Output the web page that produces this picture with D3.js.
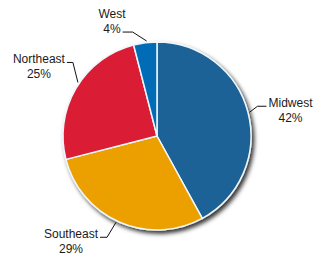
<!DOCTYPE html>
<html>
<head>
<meta charset="utf-8">
<script src="https://cdn.jsdelivr.net/npm/d3@7"></script>
<style>
  body { margin: 0; background: #fff; }
  text { font-family: "Liberation Sans", Arial, sans-serif; font-size: 12px; fill: #1a1a1a; }
</style>
</head>
<body>
<div id="chart"></div>
<script>
// data
const regions = ['Midwest', 'Southeast', 'Northeast', 'West'];
const shares = [42, 29, 25, 4];
const colors = ['#1d6296', '#eba000', '#da1a34', '#066cb6'];

// leader line shape per label: angle tweak (deg), elbow offset, horizontal run
const leaders = [
  { shift: 0, dx: 8, dy: -6, run: 9 },
  { shift: 2, dx: -9, dy: 15, run: 7 },
  { shift: 3.5, dx: -5, dy: -20, run: 6 },
  { shift: 1, dx: -14, dy: -9, run: 10 }
];

const width = 322, height = 260, radius = 94;
const cx = 157, cy = 136;

const svg = d3.select('#chart').append('svg')
  .attr('width', width)
  .attr('height', height);

const filter = svg.append('defs').append('filter')
  .attr('id', 'shadow')
  .attr('x', '-20%').attr('y', '-20%')
  .attr('width', '140%').attr('height', '140%');
filter.append('feDropShadow')
  .attr('dx', 2.5).attr('dy', 3)
  .attr('stdDeviation', 2)
  .attr('flood-color', '#000')
  .attr('flood-opacity', 0.8);

const g = svg.append('g')
  .attr('transform', `translate(${cx}, ${cy})`);

const pie = d3.pie().sort(null).value(d => d.value);
const arcs = pie(regions.map((r, i) => ({ label: r, value: shares[i], color: colors[i], leader: leaders[i] })));

const arc = d3.arc().innerRadius(0).outerRadius(radius);

g.append('g')
  .attr('filter', 'url(#shadow)')
  .selectAll('path')
  .data(arcs)
  .enter()
  .append('path')
  .attr('d', arc)
  .attr('fill', d => d.data.color)
  .attr('stroke', '#eef7fc')
  .attr('stroke-width', 1.5);

// leader lines + labels
const lineH = 15;

arcs.forEach(d => {
  const L = d.data.leader;
  const a = (d.startAngle + d.endAngle) / 2 + L.shift * Math.PI / 180;
  const right = Math.sin(a) > 0;
  const top = Math.cos(a) > 0.9;
  const p0 = [Math.sin(a) * (radius + 1.5), -Math.cos(a) * (radius + 1.5)];
  const p1 = [p0[0] + L.dx, p0[1] + L.dy];
  const p2 = [p1[0] + (right ? L.run : -L.run), p1[1]];

  g.append('polyline')
    .attr('points', [p0, p1, p2].map(p => p.join(',')).join(' '))
    .attr('fill', 'none')
    .attr('stroke', '#111')
    .attr('stroke-width', 1);

  const tx = p2[0] + (right ? 2 : -2);
  const by = p2[1] + 0.5;
  // above the pie the line points at the second line of the label
  const near = top ? `${d.data.value}%` : d.data.label;
  const far = top ? d.data.label : `${d.data.value}%`;
  const t1 = g.append('text')
    .attr('x', tx)
    .attr('y', by)
    .attr('text-anchor', right ? 'start' : 'end')
    .text(near);
  const w = t1.node().getComputedTextLength();
  g.append('text')
    .attr('x', right ? tx + w / 2 : tx - w / 2)
    .attr('y', top ? by - lineH : by + lineH)
    .attr('text-anchor', 'middle')
    .text(far);
});
</script>
</body>
</html>
